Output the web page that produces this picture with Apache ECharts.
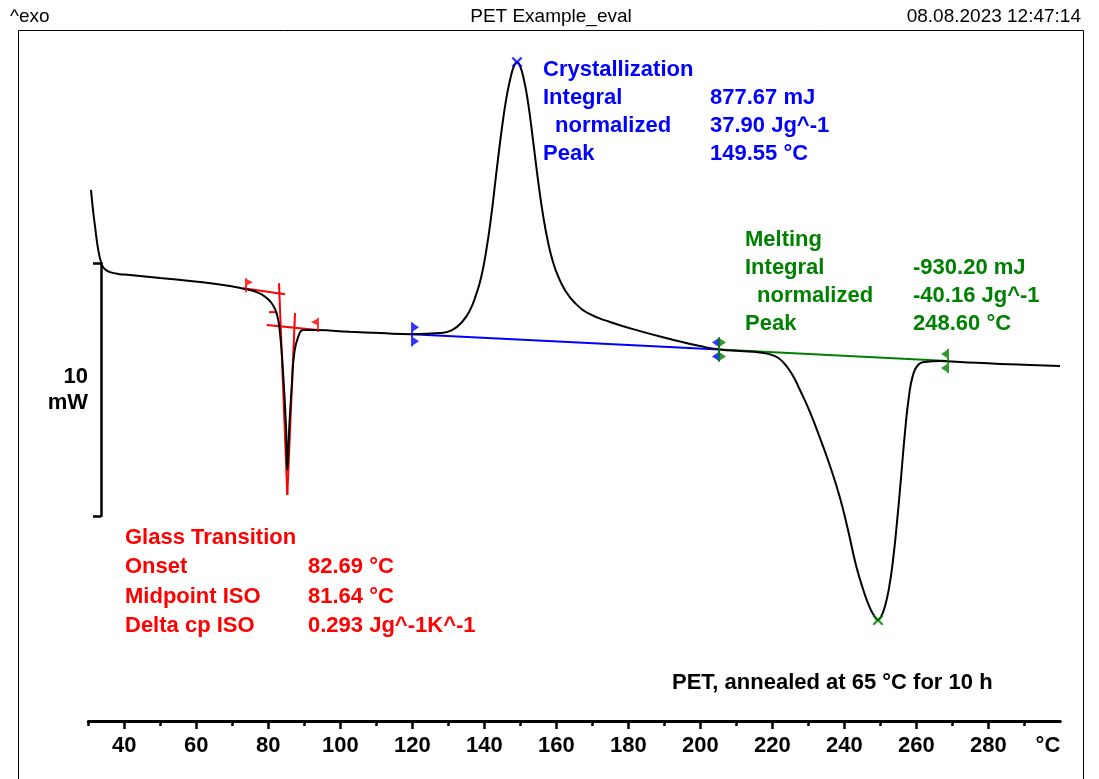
<!DOCTYPE html>
<html>
<head>
<meta charset="utf-8">
<title>PET Example_eval</title>
<script src="https://cdn.jsdelivr.net/npm/echarts@6/dist/echarts.min.js"></script>
<style>
  html, body { margin: 0; padding: 0; background: #fff; }
  #chart { width: 1099px; height: 779px; }
</style>
</head>
<body>
<div id="chart"></div>
<script>
// DSC curve, temperature in °C and heat flow in mW (exo up)
var tempC = [30.75, 31.31, 31.86, 32.42, 32.97, 33.53, 34.08, 34.92, 36.03, 38.25, 41.58, 49.92, 61.03, 69.36,
  74.0, 77.14, 79.08, 80.94, 82.33, 83.25, 84.17, 84.92, 85.28, 85.83, 86.5, 87.22, 88.33, 89.72, 93.44,
  102.69, 111.03, 119.92, 127.69, 131.03, 133.81, 136.03, 137.69, 139.08, 140.47, 141.86, 143.25, 144.64,
  146.03, 147.14, 148.25, 149.08, 149.92, 151.03, 152.14, 153.53, 154.92, 156.31, 157.69, 159.08, 160.47,
  162.42, 165.19, 169.36, 174.92, 183.25, 191.58, 199.92, 205.47, 211.03, 216.58, 220.75, 222.97, 225.47,
  227.69, 230.47, 233.25, 236.03, 238.81, 241.03, 243.25, 245.47, 247.14, 248.53, 249.36, 250.19, 251.31,
  252.42, 253.53, 254.64, 255.75, 256.86, 257.97, 259.08, 260.47, 262.42, 266.58, 272.14, 283.25, 291.58, 299.92];
var heatFlow = [2.89, 2.09, 1.46, 0.83, 0.36, 0.04, -0.16, -0.28, -0.36, -0.43, -0.47, -0.59, -0.75, -0.91,
  -1.04, -1.17, -1.33, -1.59, -1.99, -2.77, -4.49, -6.47, -8.18, -6.47, -4.89, -3.56, -2.91, -2.65, -2.65,
  -2.72, -2.77, -2.81, -2.77, -2.65, -2.33, -1.86, -1.26, -0.59, 0.43, 1.78, 3.44, 5.06,
  6.44, 7.23, 7.79, 7.94, 7.79, 7.23, 6.36, 4.86, 3.28, 1.90, 0.83, 0.04, -0.51,
  -1.07, -1.58, -2.02, -2.33, -2.69, -3.00, -3.28, -3.42, -3.48, -3.54, -3.68, -3.91, -4.39,
  -5.02, -5.89, -6.92, -8.02, -9.29, -10.55, -11.94, -13.00, -13.64, -13.99, -14.11, -13.99, -13.56,
  -12.85, -11.74, -10.24, -8.50, -6.68, -5.26, -4.43, -4.03, -3.91, -3.87, -3.91, -3.99, -4.03, -4.07];

// evaluation constructions
var crystBaseline = [[119.92, -2.81], [205.19, -3.42]];
var meltBaseline = [[205.19, -3.42], [268.81, -3.87]];
var glassLines = [
  [[73.06, -1.00], [84.64, -1.23]],
  [[79.56, -2.45], [94.36, -2.66]],
  [[82.97, -0.80], [85.28, -9.17]],
  [[87.42, -1.98], [85.28, -9.17]],
  [[80.2, -1.94], [82.4, -1.94]]
];
var glassFlags = [[73.8, -1.15], [93.8, -2.73]];
var crystPeak = [149.08, 7.94];
var meltPeak = [249.36, -14.11];

var majorTicks = [40, 60, 80, 100, 120, 140, 160, 180, 200, 220, 240, 260, 280];
var minorTicks = [30, 50, 70, 90, 110, 130, 150, 170, 190, 210, 230, 250, 270, 290];
var labelTicks = [40, 60, 80, 100, 120, 140, 160, 180, 200, 220, 240, 260, 280, 300];

var glassText = [['Glass Transition', ''], ['Onset', '82.69 °C'], ['Midpoint ISO', '81.64 °C'], ['Delta cp ISO', '0.293 Jg^-1K^-1']];
var crystText = [['Crystallization', ''], ['Integral', '877.67 mJ'], ['  normalized', '37.90 Jg^-1'], ['Peak', '149.55 °C']];
var meltText = [['Melting', ''], ['Integral', '-930.20 mJ'], ['  normalized', '-40.16 Jg^-1'], ['Peak', '248.60 °C']];

var FONT = 'Liberation Sans, Arial, sans-serif';
var BLUE = '#0000ff', RED = '#ff0000', GREEN = '#008000';

var flagRight = 'path://M0,0L2,0L2,1L8,4L2,7L2,14L0,14Z';
var flagLeft = 'path://M8,0L6,0L6,1L0,4L6,7L6,14L8,14Z';
var limitRight = 'path://M0,0L2,0L2,1L8,5L2,9L2,15L8,19L2,23L2,24L0,24Z';
var limitLeft = 'path://M8,0L6,0L6,1L0,5L6,9L6,15L0,19L6,23L6,24L8,24Z';
var crossMark = 'path://M0,1.5L1.5,0L5,3.5L8.5,0L10,1.5L6.5,5L10,8.5L8.5,10L5,6.5L1.5,10L0,8.5L3.5,5Z';

function textBlock(rows, x0, x1, y0, dy, color) {
    var els = [];
    rows.forEach(function (r, i) {
        var y = y0 + i * dy;
        var xl = r[0].indexOf('  ') === 0 ? x0 + 12 : x0;
        els.push({ type: 'text', x: xl, y: y, style: { text: r[0].trim(), fill: color, font: 'bold 22px ' + FONT, verticalAlign: 'middle', textVerticalAlign: 'middle' } });
        if (r[1]) {
            els.push({ type: 'text', x: x1, y: y, style: { text: r[1], fill: color, font: 'bold 22px ' + FONT, verticalAlign: 'middle', textVerticalAlign: 'middle' } });
        }
    });
    return els;
}

function segSeries(data, color) {
    return {
        type: 'line', xAxisIndex: 0, yAxisIndex: 0, data: data, showSymbol: false, silent: true,
        lineStyle: { color: color, width: 2 }, z: 2
    };
}

function markSeries(data, symbol, size, offset, color) {
    return {
        type: 'scatter', xAxisIndex: 0, yAxisIndex: 0, data: data, symbol: symbol,
        symbolSize: size, symbolOffset: offset, itemStyle: { color: color }, silent: true, z: 4
    };
}

var chart = echarts.init(document.getElementById('chart'));

var series = [
    segSeries(crystBaseline, BLUE),
    segSeries(meltBaseline, GREEN)
];
glassLines.forEach(function (seg) { series.push(segSeries(seg, RED)); });
series.push({
    type: 'line', xAxisIndex: 0, yAxisIndex: 0,
    data: tempC.map(function (t, i) { return [t, heatFlow[i]]; }),
    showSymbol: false, smooth: 0.5, silent: true,
    lineStyle: { color: '#000', width: 2 }, z: 3
});
series.push(markSeries([crystBaseline[0]], limitRight, [8, 24], [3, 0], BLUE));
series.push(markSeries([crystBaseline[1]], limitLeft, [8, 24], [-3, 0], BLUE));
series.push(markSeries([meltBaseline[0]], limitRight, [8, 24], [3, 0], GREEN));
series.push(markSeries([meltBaseline[1]], limitLeft, [8, 24], [-3, 0], GREEN));
series.push(markSeries([glassFlags[0]], flagRight, [8, 14], [3, -7], RED));
series.push(markSeries([glassFlags[1]], flagLeft, [8, 14], [-3, -7], RED));
series.push(markSeries([crystPeak], crossMark, 11, [0, 0], BLUE));
series.push(markSeries([meltPeak], crossMark, 11, [0, 0], GREEN));

var graphics = [
    { type: 'rect', shape: { x: 18.5, y: 30.5, width: 1065, height: 800 }, style: { fill: 'none', stroke: '#000', lineWidth: 1 }, z: 0 },
    { type: 'text', x: 10, y: 17, style: { text: '^exo', fill: '#000', font: '19px ' + FONT, verticalAlign: 'middle', textVerticalAlign: 'middle' } },
    { type: 'text', x: 551, y: 17, style: { text: 'PET Example_eval', fill: '#000', font: '19px ' + FONT, align: 'center', textAlign: 'center', verticalAlign: 'middle', textVerticalAlign: 'middle' } },
    { type: 'text', x: 1081, y: 17, style: { text: '08.08.2023 12:47:14', fill: '#000', font: '19px ' + FONT, align: 'right', textAlign: 'right', verticalAlign: 'middle', textVerticalAlign: 'middle' } },
    { type: 'text', x: 672, y: 683, style: { text: 'PET, annealed at 65 °C for 10 h', fill: '#000', font: 'bold 22px ' + FONT, verticalAlign: 'middle', textVerticalAlign: 'middle' } }
].concat(
    textBlock(crystText, 543, 710, 70, 28, BLUE),
    textBlock(meltText, 745, 913, 240, 28, GREEN),
    textBlock(glassText, 125, 308, 538, 29.3, RED)
);

chart.setOption({
    animation: false,
    backgroundColor: '#fff',
    grid: [
        { left: 88.3, right: 38.7, top: 30, bottom: 58 },
        { left: 101, top: 263, height: 253, width: 20 }
    ],
    xAxis: [
        {
            gridIndex: 0, type: 'value', min: 30, max: 300, position: 'bottom',
            axisLine: { onZero: false, lineStyle: { color: '#000', width: 3 } },
            axisTick: { customValues: majorTicks, length: 8, lineStyle: { color: '#000', width: 2.5 } },
            axisLabel: {
                customValues: labelTicks, margin: 14, color: '#000', fontSize: 22, fontWeight: 'bold', fontFamily: FONT,
                alignMaxLabel: 'right',
                formatter: function (v) { return v === 300 ? '°C' : String(v); }
            },
            splitLine: { show: false }
        },
        {
            gridIndex: 0, type: 'value', min: 30, max: 300, position: 'bottom',
            axisLine: { show: false, onZero: false },
            axisTick: { customValues: minorTicks, length: 5, lineStyle: { color: '#000', width: 2.5 } },
            axisLabel: { show: false },
            splitLine: { show: false }
        },
        { gridIndex: 1, type: 'value', min: 0, max: 1, show: false }
    ],
    yAxis: [
        { gridIndex: 0, type: 'value', min: -18.1, max: 9.21, show: false },
        {
            gridIndex: 1, type: 'value', min: 0, max: 10, interval: 10, position: 'left',
            axisLine: { show: true, onZero: false, lineStyle: { color: '#000', width: 2.5 } },
            axisTick: { show: true, length: 8, lineStyle: { color: '#000', width: 2.5 } },
            axisLabel: { show: false },
            splitLine: { show: false },
            name: '10\nmW', nameLocation: 'middle', nameRotate: 0, nameGap: 13,
            nameTextStyle: { color: '#000', fontSize: 22, fontWeight: 'bold', fontFamily: FONT, align: 'right', lineHeight: 26, padding: [0, 0, 24, 0] }
        }
    ],
    graphic: graphics,
    series: series
});
</script>
</body>
</html>
